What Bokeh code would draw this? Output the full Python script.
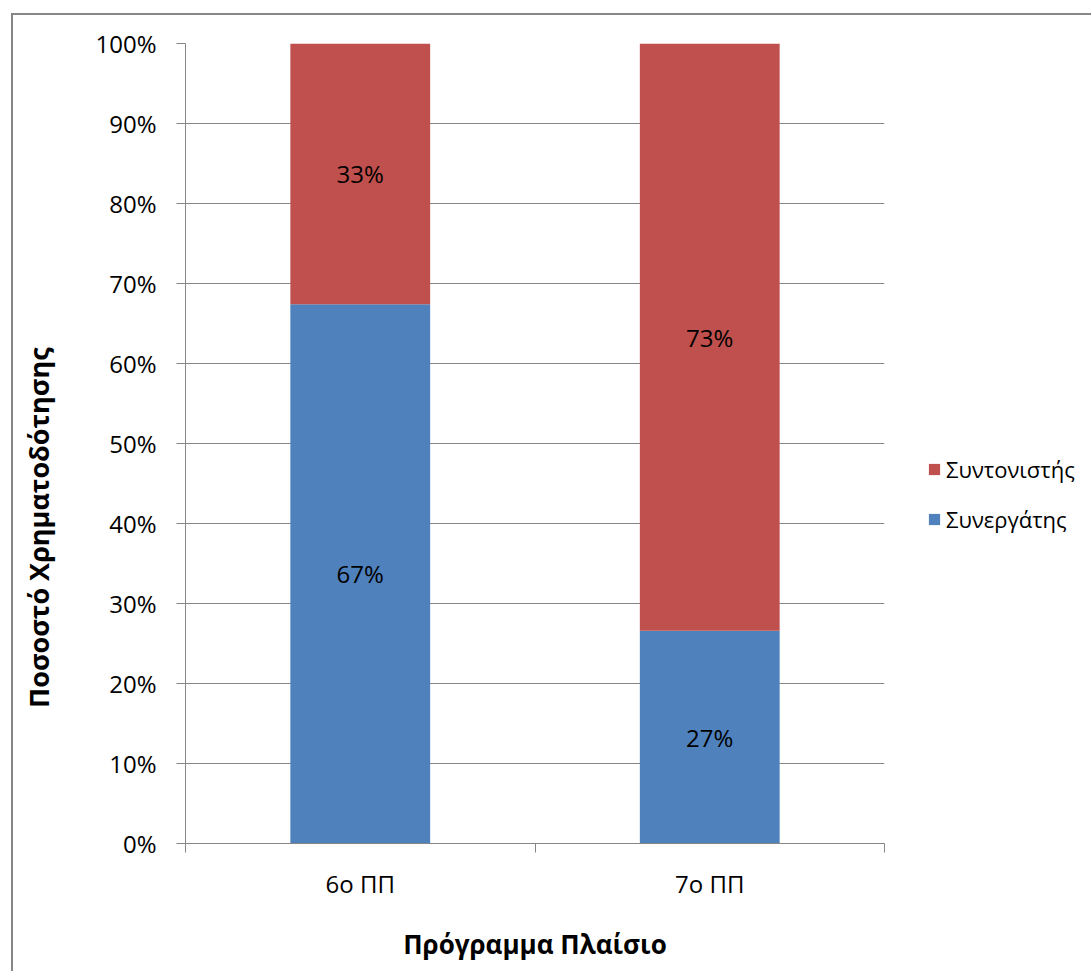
from bokeh.plotting import figure
from bokeh.models import (ColumnDataSource, FixedTicker, Legend, LegendItem,
                          LabelSet, Range1d)
from bokeh.core.properties import value
from bokeh.embed import file_html
from bokeh.resources import INLINE

categories = ["6ο ΠΠ", "7ο ΠΠ"]
synergatis = [0.674, 0.266]      # Συνεργάτης (blue, bottom)
syntonistis = [0.326, 0.734]     # Συντονιστής (red, top)
y_ticks = [0, 0.1, 0.2, 0.3, 0.4, 0.5, 0.6, 0.7, 0.8, 0.9, 1.0]
y_tick_labels = ["0%", "10%", "20%", "30%", "40%", "50%", "60%", "70%", "80%", "90%", "100%"]

FONT = "Open Sans"
GRAY = "#868686"
BLUE = "#4F81BD"
RED = "#C0504D"

xs = [i + 0.5 for i in range(len(categories))]
src = ColumnDataSource(dict(
    x=xs,
    blue=synergatis,
    red=syntonistis,
    blue_mid=[b / 2 for b in synergatis],
    red_mid=[b + r / 2 for b, r in zip(synergatis, syntonistis)],
    blue_lbl=[f"{round(b * 100)}%" for b in synergatis],
    red_lbl=[f"{round(r * 100)}%" for r in syntonistis],
))

p = figure(width=1078, height=956, output_backend="svg", toolbar_location=None,
           x_range=Range1d(0, len(categories)), y_range=Range1d(0, 1),
           min_border_left=172, min_border_right=207, min_border_top=28,
           min_border_bottom=128)
p.frame_width = 699
p.frame_height = 800
p.margin = (13, 0, 0, 11)
p.styles = {"border-left": "2px solid #868686", "border-top": "2px solid #868686"}
p.outline_line_color = None
p.background_fill_color = "white"
p.border_fill_color = "white"

r = p.vbar_stack(["blue", "red"], x="x", width=0.4, source=src,
                 color=[BLUE, RED], line_color=None)

for ycol, tcol in (("blue_mid", "blue_lbl"), ("red_mid", "red_lbl")):
    p.add_layout(LabelSet(x="x", y=ycol, text=tcol, source=src,
                          text_align="center", text_baseline="middle",
                          text_font=value(FONT), text_font_size="24px",
                          text_color="black"))

# y axis
p.yaxis.ticker = FixedTicker(ticks=y_ticks, minor_ticks=[])
p.yaxis.major_label_overrides = {t: l for t, l in zip(y_ticks, y_tick_labels)}
p.yaxis.major_tick_out = 9
p.yaxis.major_tick_in = 0
p.yaxis.minor_tick_line_color = None
p.yaxis.major_tick_line_color = GRAY
p.yaxis.axis_line_color = GRAY
p.yaxis.major_label_text_font = FONT
p.yaxis.major_label_text_font_size = "24px"
p.yaxis.major_label_text_color = "black"
p.yaxis.major_label_standoff = 20
p.yaxis.axis_label = "Ποσοστό Χρηματοδότησης" + "\u00a0" * 24
p.yaxis.axis_label_text_font = FONT
p.yaxis.axis_label_text_font_style = "bold"
p.yaxis.axis_label_text_font_size = "27px"
p.yaxis.axis_label_text_color = "black"
p.yaxis.axis_label_standoff = 35

# x axis
p.xaxis.ticker = FixedTicker(ticks=xs, minor_ticks=[0, 1, 2])
p.xaxis.major_label_overrides = {x: c for x, c in zip(xs, categories)}
p.xaxis.major_tick_line_color = None
p.xaxis.major_tick_out = 0
p.xaxis.major_tick_in = 0
p.xaxis.minor_tick_out = 9
p.xaxis.minor_tick_in = 0
p.xaxis.minor_tick_line_color = GRAY
p.xaxis.axis_line_color = GRAY
p.xaxis.major_label_text_font = FONT
p.xaxis.major_label_text_font_size = "24px"
p.xaxis.major_label_text_color = "black"
p.xaxis.major_label_standoff = 14
p.xaxis.axis_label = "Πρόγραμμα Πλαίσιο"
p.xaxis.axis_label_text_font = FONT
p.xaxis.axis_label_text_font_style = "bold"
p.xaxis.axis_label_text_font_size = "26px"
p.xaxis.axis_label_text_color = "black"
p.xaxis.axis_label_standoff = 23

p.xgrid.grid_line_color = None
p.ygrid.ticker = FixedTicker(ticks=y_ticks)
p.ygrid.grid_line_color = GRAY
p.ygrid.grid_line_width = 1

legend = Legend(items=[LegendItem(label="Συντονιστής", renderers=[r[1]]),
                       LegendItem(label="Συνεργάτης", renderers=[r[0]])],
                location=(43, 309), orientation="vertical",
                glyph_width=14, glyph_height=14, label_standoff=5,
                spacing=20, padding=0, margin=0,
                border_line_color=None, background_fill_alpha=0,
                label_text_font=FONT, label_text_font_size="22px",
                label_text_color="black", label_height=30)
p.add_layout(legend, "right")

open("out.html", "w").write(file_html(p, INLINE))
